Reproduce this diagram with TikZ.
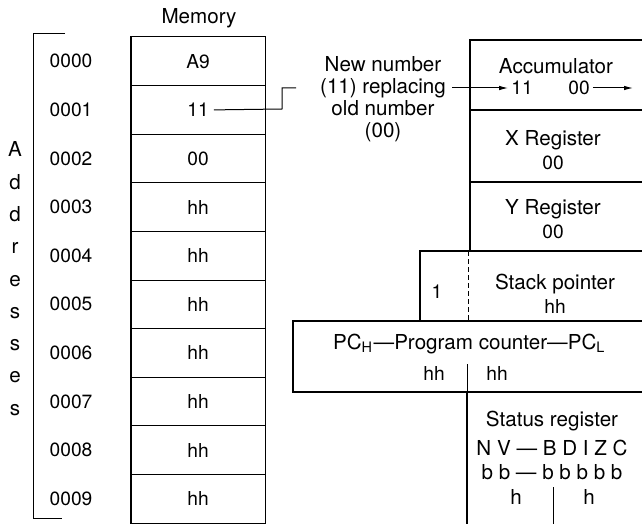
\documentclass[tikz,border=0pt]{standalone}
\usepackage{fontspec}
\setmainfont{TeX Gyre Heros}
\usetikzlibrary{arrows.meta}
\begin{document}
\begin{tikzpicture}[x=1pt,y=-1pt,
  txt/.style={font=\fontsize{20.6}{21.8}\selectfont, inner sep=0pt},
  num/.style={font=\fontsize{19.2}{21}\selectfont, inner sep=0pt},
  cell/.style={draw, line width=1pt, minimum width=134pt, minimum height=48.6pt, inner sep=0pt},
  thickbox/.style={line width=1.8pt},
  thinline/.style={line width=1pt},
  arr/.style={line width=1pt, -{Latex[length=9pt,width=4.5pt]}}]
\clip (0,0) rectangle (642,524);
% memory title
\node[txt] (memt) at (199,18) {Memory};
% memory cells
\foreach \i/\v in {0/A9,1/11,2/00,3/hh,4/hh,5/hh,6/hh,7/hh,8/hh,9/hh}{
  \node[cell] (m\i) at (198,{37+48.6*(\i+0.5)}) {};
  \node[num] (t\i) at (m\i) {\v};
  \node[num] (a\i) at (71,{37+48.6*(\i+0.5)}) {000\i};
}
\draw[thickbox] (m0.north west) rectangle (m9.south east);
% addresses bracket
\coordinate (bt) at (65,34);
\coordinate (bb) at (62,518);
\draw[thinline] (bt) -- (33,34) -- (33,518) -- (bb);
\foreach \l [count=\k from 0] in {A,d,d,r,e,s,s,e,s}{
  \node[txt, anchor=base] (L\k) at (15,{157+32.25*\k}) {\l};
}
% label
\node[txt, align=center] (lbl) at (383,99) {New number\\(11) replacing\\old number\\(00)};
\coordinate (lblin) at (296,88);
\draw[thinline] ([xshift=5pt]t1.east) -- (282,109) |- (lblin);
% registers
\draw[thickbox] (470,40) rectangle (660,110);
\draw[thickbox] (470,110) rectangle (660,182);
\draw[thickbox] (470,182) rectangle (660,251);
\draw[thickbox] (470,251) -- (660,251);
\draw[thickbox] (470,251) -- (420,251) -- (420,321);
\draw[thinline, dash pattern=on 5pt off 3pt] (468,251) -- (468,321);
\draw[thickbox] (293,321) rectangle (660,392);
\draw[thickbox] (467,392) -- (467,530);
\draw[thinline] (467,364) -- (467,392);
\draw[thinline] (553,487) -- (553,530);
% accumulator
\node[txt] (acc) at (556,66) {Accumulator};
\node[num] (r11) at (522,88) {11};
\node[num] (r00) at (579,88) {00};
\coordinate (accout) at (633,88);
\draw[arr] ([xshift=6pt]lbl.east |- r11) -- ([xshift=-3pt]r11.west);
\draw[arr] ([xshift=3pt]r00.east) -- (accout);
% X, Y
\node[txt] (xr) at (553,140) {X Register};
\node[num] (xv) at (553,163) {00};
\node[txt] (yr) at (553,209) {Y Register};
\node[num] (yv) at (553,232) {00};
% stack pointer
\node[num] (one) at (437,292) {1};
\node[txt] (spt) at (555,284) {Stack pointer};
\node[num] (spv) at (555,306) {hh};
% program counter
\node[txt] (pct) at (469,344) {PC\textsubscript{H}\hspace{1pt}—Program counter—PC\textsubscript{L}};
\node[num] (pch) at (434,373) {hh};
\node[num] (pcl) at (497,373) {hh};
% status register
\node[txt] (srt) at (552,421) {Status register};
\node[txt] (srf) at (552,448) {N V — B D I Z C};
\node[txt] (srb) at (552,472) {b b — b b b b b};
\node[txt] (srh1) at (516,497) {h};
\node[txt] (srh2) at (589,497) {h};
\end{tikzpicture}
\end{document}
